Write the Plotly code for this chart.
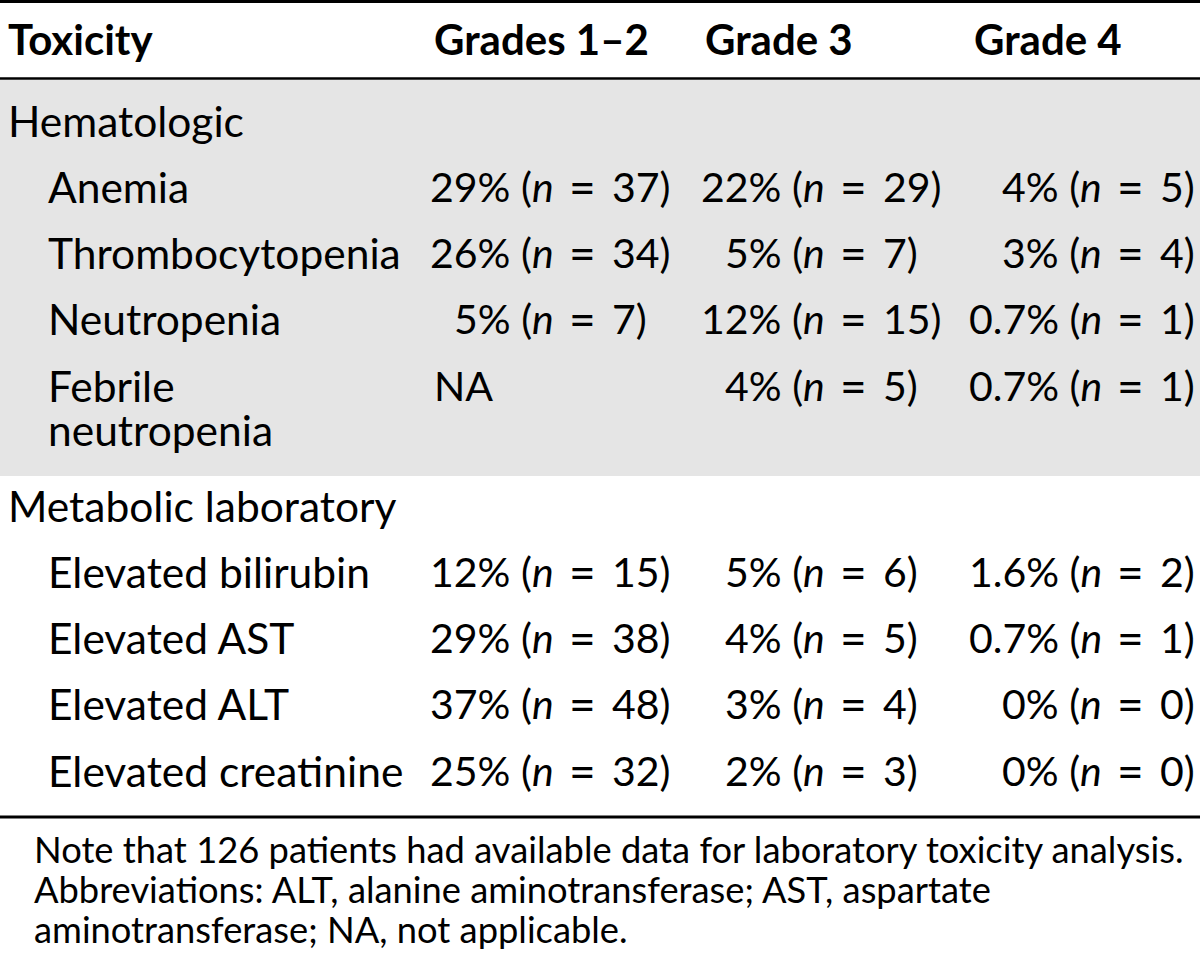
import plotly.graph_objects as go

# ---------------- data ----------------
header = ["Toxicity", "Grades 1–2", "Grade 3", "Grade 4"]
sections = ["Hematologic", "Metabolic laboratory"]
toxicity = ["Anemia", "Thrombocytopenia", "Neutropenia", "Febrile<br>neutropenia",
            "Elevated bilirubin", "Elevated AST", "Elevated ALT", "Elevated creatinine"]
section_of = [0, 0, 0, 0, 1, 1, 1, 1]
g12_pct = ["29%", "26%", "5%", None, "12%", "29%", "37%", "25%"]
g12_n = [37, 34, 7, None, 15, 38, 48, 32]
g3_pct = ["22%", "5%", "12%", "4%", "5%", "4%", "3%", "2%"]
g3_n = [29, 7, 15, 5, 6, 5, 4, 3]
g4_pct = ["4%", "3%", "0.7%", "0.7%", "1.6%", "0.7%", "0%", "0%"]
g4_n = [5, 4, 1, 1, 2, 1, 0, 0]
na_label = "NA"
note_lines = [
    "Note that 126 patients had available data for laboratory toxicity analysis.",
    "Abbreviations: ALT, alanine aminotransferase; AST, aspartate",
    "aminotransferase; NA, not applicable.",
]

# ---------------- layout constants ----------------
FONT = "Lato, Carlito, 'DejaVu Sans', sans-serif"
LABEL = 42.5
HEAD = 42
VAL = 41
EQ = 46
NOTE = 36.3
W, H = 1200, 959
col_left = [7, 433, 704, 973]
eq_x = [582, 853, 1130]
sub_indent = 47
header_y = 39
section_y = [120, 505]
row_pitch = 66.3
wrap_gap = 44
note_y0, note_pitch = 849, 40
gray_band = (80, 476)

fig = go.Figure()
fig.add_trace(go.Scatter(x=[0, W], y=[0, H], mode="markers",
                         marker=dict(opacity=0), hoverinfo="skip"))

fig.update_layout(
    width=W, height=H, margin=dict(l=0, r=0, t=0, b=0),
    paper_bgcolor="white", plot_bgcolor="white", showlegend=False,
    xaxis=dict(range=[0, W], visible=False, fixedrange=True),
    yaxis=dict(range=[H, 0], visible=False, fixedrange=True),
)

# background band + rules
fig.add_shape(type="rect", x0=0, x1=W, y0=gray_band[0], y1=gray_band[1],
              fillcolor="#e5e5e5", line=dict(width=0), layer="below")
for yy, lw in [(1.5, 3), (78.5, 2.5), (817, 3)]:
    fig.add_shape(type="line", x0=0, x1=W, y0=yy, y1=yy,
                  line=dict(color="black", width=lw))


def txt(x, y, s, anchor="left", size=LABEL, bold=False):
    fig.add_annotation(x=x, y=y, text=(f"<b>{s}</b>" if bold else s),
                       xanchor=anchor, yanchor="middle", showarrow=False,
                       font=dict(family=FONT, size=size, color="black"),
                       align="left", borderpad=0)


for i, h in enumerate(header):
    txt(col_left[i], header_y, h, size=HEAD, bold=True)

for s, y in zip(sections, section_y):
    txt(col_left[0], y, s)

cols = [(g12_pct, g12_n), (g3_pct, g3_n), (g4_pct, g4_n)]
for r, name in enumerate(toxicity):
    sec = section_of[r]
    k = r - section_of.index(sec) + 1
    y = section_y[sec] + k * row_pitch
    for j, part in enumerate(name.split("<br>")):
        txt(sub_indent, y + j * wrap_gap, part)
    for c, (pcts, ns) in enumerate(cols):
        if pcts[r] is None:
            txt(col_left[c + 1], y, na_label, size=VAL)
            continue
        e = eq_x[c]
        txt(e - 27, y, f"{pcts[r]} (<i>n</i>", anchor="right", size=VAL)
        txt(e, y, "=", anchor="center", size=EQ)
        txt(e + 29, y, f"{ns[r]})", anchor="left", size=VAL)

for i, line in enumerate(note_lines):
    txt(33, note_y0 + i * note_pitch, line, size=NOTE)

fig.write_html("out.html", config={"displayModeBar": False},
               post_script="document.body.style.margin='0';document.body.style.padding='0';")
